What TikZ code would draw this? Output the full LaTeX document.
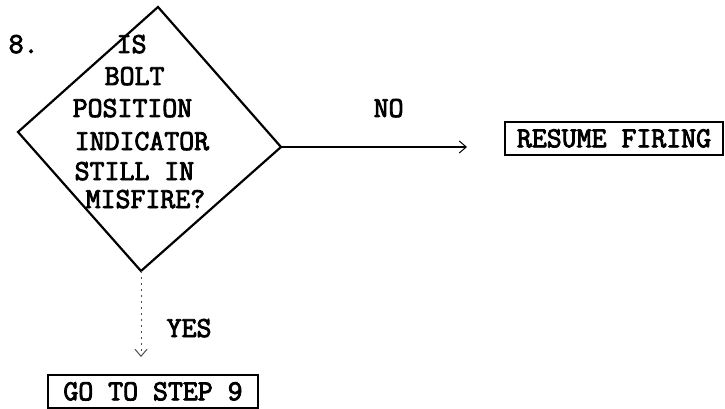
\documentclass[tikz,border=0pt]{standalone}
\usepackage{fontspec}
\newfontfamily\tw[FakeBold=3]{Latin Modern Mono}
\usetikzlibrary{arrows.meta}
\begin{document}
\begin{tikzpicture}[x=1pt,y=-1pt,
  txt/.style={inner sep=0pt,anchor=base west,font=\tw\fontsize{29}{31}\selectfont},
  boxnode/.style={draw,line width=2pt,inner sep=0pt,text height=17.5pt,text depth=0pt,font=\tw\fontsize{29}{31}\selectfont},
  shape line/.style={line width=2.2pt,line join=miter},
  flow/.style={line width=1.6pt,-{Straight Barb[length=7pt,width=12pt,line width=1pt]}},
  faintflow/.style={line width=0.9pt,black!70,dash pattern=on 2pt off 4pt,-{Straight Barb[length=7pt,width=12pt,line width=1pt]}}]
\useasboundingbox (0,0) rectangle (725,409);
% diamond
\coordinate (dT) at (158,7);
\coordinate (dL) at (18,132);
\coordinate (dR) at (281,147);
\coordinate (dB) at (141,271);
\draw[shape line] (dT) -- (dR) -- (dB) -- (dL) -- cycle;
% texts
\node[txt] (num) at (8.5,53) {8.};
\node[txt] (q1) at (116.5,53) {IS};
\node[txt] (q2) at (104.5,85) {BOLT};
\node[txt] (q3) at (72.5,117) {POSITION};
\node[txt] (q4) at (74.5,150) {INDICATOR};
\node[txt] (q5) at (74.5,180) {STILL IN};
\node[txt] (q6) at (85.5,208) {MISFIRE?};
\node[txt] (no) at (373.5,117) {NO};
\node[txt] (yes) at (166.5,337) {YES};
% boxes
\node[boxnode,minimum width=218pt,minimum height=33pt] (resume) at (614,138.5) {RESUME FIRING};
\node[boxnode,minimum width=210pt,minimum height=33pt] (go) at (153,391.5) {GO TO STEP 9};
% connectors
\draw[flow,shorten >=37pt] (dR) -- (dR -| resume.west);
\draw[faintflow,shorten >=17pt] (dB) -- (dB |- go.north);
\end{tikzpicture}
\end{document}
